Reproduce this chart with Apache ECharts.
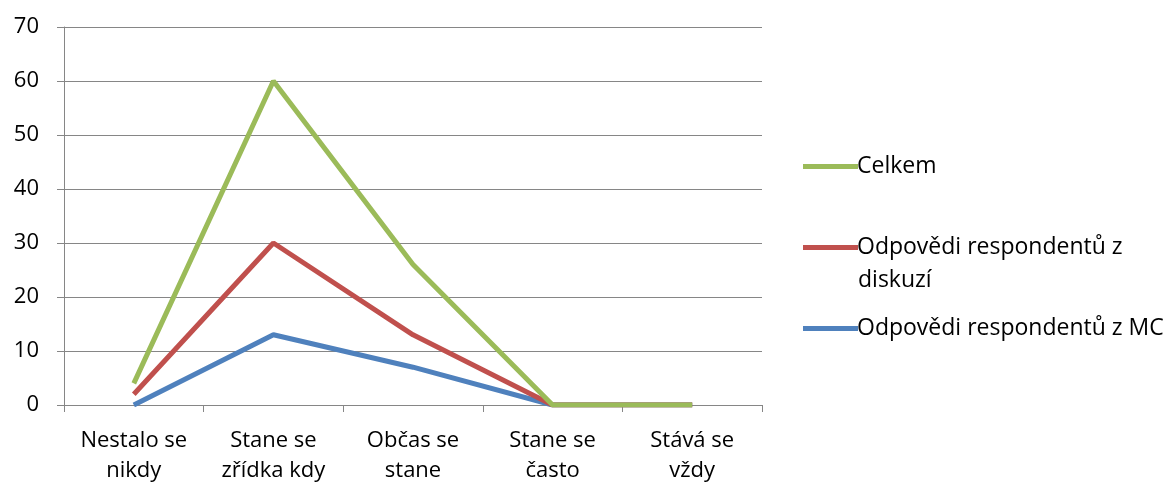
<!DOCTYPE html>
<html><head><meta charset="utf-8">
<script src="https://cdn.jsdelivr.net/npm/echarts@6/dist/echarts.min.js"></script>
<style>html,body{margin:0;padding:0;background:#fff}#c{width:1168px;height:486px}</style>
</head><body><div id="c"></div>
<script>
const categories = ['Nestalo se\nnikdy','Stane se\nzřídka kdy','Občas se\nstane','Stane se\nčasto','Stává se\nvždy'];
const celkem = [4, 60, 26, 0, 0];
const diskuze = [2, 30, 13, 0, 0];
const mc = [0, 13, 7, 0, 0];
const seriesNames = ['Celkem','Odpovědi respondentů z diskuzí','Odpovědi respondentů z MC'];
const legendLabels = ['Celkem','Odpovědi respondentů z','Odpovědi respondentů z MC'];
const legendWrap = 'diskuzí';
const yTicks = {min:0, max:70, interval:10};

const font = '"Open Sans", sans-serif';
const fs = 22;
const lfs = 23;
const chart = echarts.init(document.getElementById('c'));
chart.setOption({
  animation:false,
  grid:{left:64, right:406, top:27, bottom:78},
  xAxis:{type:'category', data:categories, boundaryGap:true,
    axisLine:{lineStyle:{color:'#868686', width:1}},
    axisTick:{show:true, length:7, lineStyle:{color:'#868686'}, alignWithLabel:false},
    axisLabel:{fontFamily:font, fontSize:fs, color:'#000', lineHeight:30, margin:21, interval:0}},
  yAxis:{type:'value', min:yTicks.min, max:yTicks.max, interval:yTicks.interval,
    axisLine:{show:true, lineStyle:{color:'#868686'}},
    axisTick:{show:true, length:7, lineStyle:{color:'#868686'}},
    splitLine:{lineStyle:{color:'#868686', width:1}},
    axisLabel:{fontFamily:font, fontSize:fs, color:'#000', margin:25}},
  legend:{
    orient:'vertical', left:798, top:146, itemWidth:55, itemHeight:5, itemGap:50,
    icon:'rect', selectedMode:false,
    textStyle:{fontFamily:font, fontSize:lfs, color:'#000', padding:[0,0,0,-6], lineHeight:31},
    data:seriesNames,
    formatter:(n)=> legendLabels[seriesNames.indexOf(n)]
  },
  graphic:[{type:'text', left:858, top:269, style:{text:legendWrap, font:lfs+'px "Open Sans", sans-serif', fill:'#000'}}],
  series:[
    {name:seriesNames[2], type:'line', data:mc, color:'#4F81BD', lineStyle:{width:5}, symbol:'none'},
    {name:seriesNames[1], type:'line', data:diskuze, color:'#C0504D', lineStyle:{width:5}, symbol:'none'},
    {name:seriesNames[0], type:'line', data:celkem, color:'#9BBB59', lineStyle:{width:5}, symbol:'none'}
  ]
});
</script></body></html>
